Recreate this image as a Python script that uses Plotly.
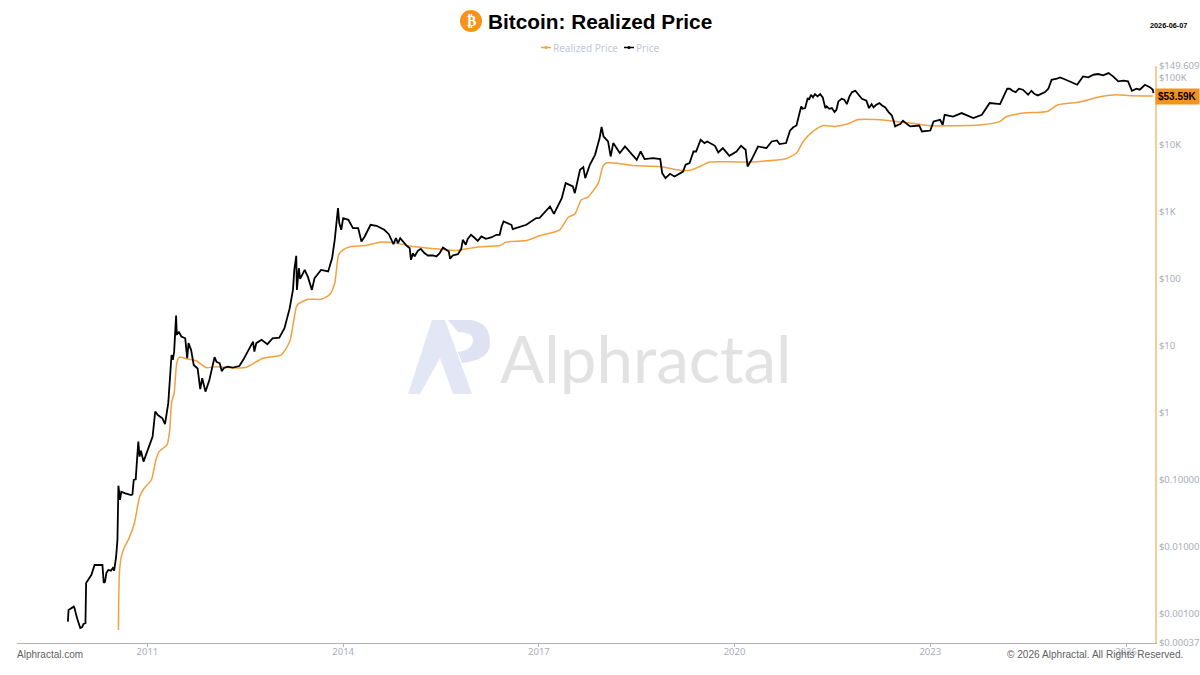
"""
Bitcoin: Realized Price chart, values read off the reference picture
"""
import math
import pandas as pd
from plotly import graph_objects as go

WIDTH, HEIGHT = 1200, 675
M_L, M_R, M_T, M_B = 17, 45, 66, 32

price_years = [
    2009.78, 2009.79, 2009.87, 2009.88, 2009.92, 2009.97, 2010.00, 2010.02, 2010.05, 2010.06, 2010.10, 2010.14,
    2010.19, 2010.31, 2010.33, 2010.35, 2010.37, 2010.40, 2010.44, 2010.47, 2010.49, 2010.52, 2010.54, 2010.55,
    2010.555, 2010.58, 2010.60, 2010.66, 2010.75, 2010.77, 2010.79, 2010.82, 2010.86, 2010.88, 2010.90, 2010.94,
    2011.03, 2011.08, 2011.12, 2011.16, 2011.23, 2011.27, 2011.32, 2011.35, 2011.37, 2011.39, 2011.41, 2011.44,
    2011.45, 2011.48, 2011.52, 2011.58, 2011.61, 2011.63, 2011.67, 2011.71, 2011.77, 2011.81, 2011.84, 2011.89,
    2011.95, 2012.03, 2012.06, 2012.11, 2012.14, 2012.17, 2012.23, 2012.31, 2012.41, 2012.47, 2012.55, 2012.62,
    2012.64, 2012.67, 2012.75, 2012.84, 2012.92, 2013.02, 2013.10, 2013.18, 2013.23, 2013.25, 2013.28, 2013.29,
    2013.32, 2013.34, 2013.41, 2013.46, 2013.52, 2013.56, 2013.66, 2013.77, 2013.83, 2013.87, 2013.92, 2013.94,
    2013.97, 2014.00, 2014.08, 2014.15, 2014.23, 2014.28, 2014.33, 2014.42, 2014.51, 2014.56, 2014.63, 2014.70,
    2014.74, 2014.77, 2014.81, 2014.84, 2014.875, 2014.915, 2014.97, 2015.02, 2015.04, 2015.07, 2015.095, 2015.145,
    2015.19, 2015.25, 2015.30, 2015.38, 2015.43, 2015.48, 2015.53, 2015.58, 2015.62, 2015.64, 2015.68, 2015.76,
    2015.81, 2015.835, 2015.88, 2015.91, 2015.96, 2016.01, 2016.065, 2016.12, 2016.19, 2016.27, 2016.35, 2016.40,
    2016.43, 2016.46, 2016.58, 2016.60, 2016.81, 2016.96, 2017.01, 2017.17, 2017.23, 2017.35, 2017.41, 2017.52,
    2017.55, 2017.63, 2017.68, 2017.71, 2017.78, 2017.86, 2017.93, 2017.96, 2017.99, 2018.06, 2018.10, 2018.14,
    2018.24, 2018.32, 2018.39, 2018.50, 2018.56, 2018.62, 2018.75, 2018.86, 2018.89, 2018.94, 2019.01, 2019.08,
    2019.21, 2019.25, 2019.31, 2019.37, 2019.41, 2019.48, 2019.54, 2019.58, 2019.70, 2019.75, 2019.82, 2019.92,
    2020.03, 2020.10, 2020.17, 2020.20, 2020.26, 2020.36, 2020.49, 2020.57, 2020.65, 2020.69, 2020.79, 2020.85,
    2020.90, 2020.95, 2020.99, 2021.02, 2021.04, 2021.08, 2021.12, 2021.14, 2021.17, 2021.20, 2021.23, 2021.27,
    2021.31, 2021.35, 2021.39, 2021.41, 2021.45, 2021.49, 2021.53, 2021.56, 2021.59, 2021.64, 2021.68, 2021.72,
    2021.76, 2021.80, 2021.85, 2021.90, 2021.95, 2022.02, 2022.06, 2022.10, 2022.13, 2022.17, 2022.22, 2022.26,
    2022.31, 2022.36, 2022.41, 2022.44, 2022.46, 2022.51, 2022.54, 2022.58, 2022.69, 2022.83, 2022.87, 2023.00,
    2023.05, 2023.15, 2023.19, 2023.22, 2023.35, 2023.48, 2023.66, 2023.79, 2023.91, 2024.07, 2024.11, 2024.14,
    2024.18, 2024.22, 2024.26, 2024.31, 2024.36, 2024.42, 2024.50, 2024.55, 2024.60, 2024.65, 2024.71, 2024.76,
    2024.81, 2024.86, 2024.94, 2024.99, 2025.04, 2025.11, 2025.19, 2025.25, 2025.34, 2025.42, 2025.50, 2025.57,
    2025.65, 2025.73, 2025.80, 2025.88, 2025.96, 2026.03, 2026.09, 2026.16, 2026.21, 2026.29, 2026.37, 2026.41,
    2026.42,
]
price_values = [
    0.00077, 0.00115, 0.00129, 0.00124, 0.00087, 0.00062, 0.00064, 0.00071, 0.00073, 0.0029, 0.00333, 0.00382,
    0.00539, 0.00539, 0.00293, 0.00303, 0.00409, 0.00454, 0.00443, 0.00486, 0.00443, 0.00717, 0.0127, 0.0357,
    0.0822, 0.0503, 0.0669, 0.0633, 0.0597, 0.0611, 0.100, 0.102, 0.373, 0.223, 0.274, 0.188,
    0.314, 0.443, 1.05, 0.93, 0.83, 0.68, 1.40, 3.29, 7.3, 6.2, 8.2, 28.3,
    14.6, 16.3, 13.8, 13.0, 6.55, 11.0, 8.7, 5.2, 4.6, 2.26, 3.29, 2.08,
    3.1, 6.8, 5.8, 5.5, 4.2, 4.65, 4.9, 4.75, 5.0, 6.2, 8.7, 11.6,
    8.2, 11.0, 12.3, 10.6, 13.0, 13.3, 18.4, 36.6, 68.6, 136, 220, 68.5,
    144, 100, 136, 106, 68.5, 102, 136, 129, 204, 382, 1135, 678,
    539, 805, 760, 571, 571, 360, 428, 640, 618, 583, 539, 464,
    382, 329, 405, 340, 405, 361, 314, 287, 192, 241, 216, 262,
    280, 241, 223, 223, 216, 241, 294, 271, 256, 199, 223, 233,
    280, 382, 322, 395, 454, 414, 369, 429, 395, 414, 454, 454,
    604, 717, 640, 553, 640, 805, 815, 1200, 933, 1600, 2680, 2385,
    1900, 4240, 4650, 3180, 5030, 7080, 12600, 18400, 13300, 11200, 6690, 10600,
    7520, 9430, 7940, 5970, 7940, 6120, 6330, 6120, 3780, 3180, 3690, 3360,
    3990, 5030, 5330, 7940, 7940, 11900, 10600, 11200, 9660, 7670, 8930, 6850,
    7940, 9660, 8420, 4740, 5970, 9430, 8930, 11200, 11600, 10240, 10600, 16200,
    18200, 19400, 28100, 37300, 34400, 35200, 49800, 46900, 55700, 50900, 57100, 52700,
    57100, 50900, 35200, 37300, 34400, 35200, 30700, 33300, 44300, 48600, 46900, 40400,
    52700, 61100, 63900, 55700, 48600, 45400, 35200, 40400, 36100, 39500, 41800, 38600,
    36100, 30700, 27400, 22200, 18800, 19900, 20400, 22800, 18800, 19400, 15800, 16300,
    22300, 23600, 19900, 28000, 26400, 29700, 25000, 28000, 41900, 40500, 49700, 58900,
    68500, 68500, 63900, 61100, 68500, 66300, 55800, 63900, 57000, 54500, 58900, 61100,
    68500, 93300, 96600, 101100, 96600, 90200, 83200, 78600, 104700, 101100, 110800, 113500,
    108300, 117400, 104700, 88200, 90200, 88200, 63900, 68500, 66300, 78600, 71700, 66300,
    58900,
]
realized_years = [
    2010.555, 2010.56, 2010.57, 2010.60, 2010.65, 2010.71, 2010.80, 2010.88, 2010.95, 2011.06, 2011.13, 2011.18,
    2011.30, 2011.34, 2011.37, 2011.41, 2011.45, 2011.49, 2011.57, 2011.75, 2011.90, 2012.05, 2012.31, 2012.51,
    2012.77, 2013.05, 2013.18, 2013.28, 2013.31, 2013.46, 2013.66, 2013.79, 2013.87, 2013.93, 2014.00, 2014.12,
    2014.35, 2014.56, 2014.81, 2015.07, 2015.43, 2015.74, 2016.04, 2016.40, 2016.50, 2016.81, 2017.01, 2017.32,
    2017.45, 2017.55, 2017.65, 2017.75, 2017.91, 2017.98, 2018.03, 2018.29, 2018.44, 2018.85, 2019.11, 2019.31,
    2019.47, 2019.62, 2020.08, 2020.39, 2020.77, 2020.95, 2021.05, 2021.20, 2021.36, 2021.54, 2021.74, 2021.88,
    2022.23, 2022.38, 2022.69, 2023.00, 2023.25, 2023.76, 2024.07, 2024.17, 2024.43, 2024.79, 2024.96, 2025.29,
    2025.55, 2025.86, 2026.06, 2026.41,
]
realized_values = [
    0.00058, 0.00162, 0.00405, 0.00717, 0.0101, 0.013, 0.0226, 0.0563, 0.0752, 0.1, 0.199, 0.265,
    0.333, 0.526, 1.40, 1.97, 5.5, 6.8, 6.55, 6.0, 4.75, 4.9, 4.7, 4.75,
    6.55, 7.35, 11.6, 37.8, 42, 49.5, 49.5, 57.7, 86, 228, 271, 303,
    314, 353, 341, 303, 280, 265, 297, 314, 353, 373, 439, 539,
    830, 924, 1510, 1660, 2680, 4750, 5340, 5160, 4900, 4750, 4240, 4140,
    4750, 5530, 5530, 5650, 6120, 7520, 11200, 15800, 19400, 18800, 20600, 23600,
    23600, 22800, 21100, 19200, 19200, 19700, 22300, 26400, 29700, 31400, 39500, 43400,
    50800, 55700, 53900, 53590,
]
y_ticks = [0.00037, 0.001, 0.01, 0.1, 1, 10, 100, 1000, 10000, 100000, 149609]
y_tick_labels = ["$0.00037", "$0.00100", "$0.01000", "$0.10000", "$1", "$10", "$100", "$1K", "$10K", "$100K", "$149.609K"]
x_ticks = ["2011-01-01", "2014-01-01", "2017-01-01", "2020-01-01", "2023-01-01", "2026-01-01"]
x_tick_labels = ["2011", "2014", "2017", "2020", "2023", "2026"]

ORANGE = "#f4a03f"
BADGE = "#f7931a"
TICK_GREY = "#a9adb8"
LEGEND_TEXT = "#c3c7dc"


def to_dates(years):
    """小数年份转日期"""
    return [pd.Timestamp(year=int(y), month=1, day=1) + pd.Timedelta(days=(y % 1) * 365.25) for y in years]


def px(x):
    return (x - M_L) / (WIDTH - M_L - M_R)


def py(y):
    return (HEIGHT - M_B - y) / (HEIGHT - M_T - M_B)


def label(x, y, text, size, color, anchor="left", family="Liberation Sans"):
    return dict(xref="paper", yref="paper", x=px(x), y=py(y), text=text, showarrow=False, xanchor=anchor,
                yanchor="middle", font=dict(size=size, color=color, family=family))


def logo_path(points):
    """水印路径, points 是画布像素"""
    out = []
    for cmd, *xy in points:
        pairs = [f"{px(xy[i]):.5f},{py(xy[i + 1]):.5f}" for i in range(0, len(xy), 2)]
        out.append(cmd + " " + " ".join(pairs))
    return " ".join(out) + " Z"


fig = go.Figure()
fig.add_trace(go.Scatter(x=to_dates(realized_years), y=realized_values, mode="lines", name="Realized Price",
                         line=dict(color=ORANGE, width=1.5, shape="spline", smoothing=0.6)))
fig.add_trace(go.Scatter(x=to_dates(price_years), y=price_values, mode="lines", name="Price",
                         line=dict(color="#000000", width=1.8)))

shapes = [
    # 水印 logo
    dict(type="path", xref="paper", yref="paper", layer="below", fillcolor="#e3e6f5", line=dict(width=0),
         path=logo_path([("M", 408, 394), ("L", 432, 320), ("L", 445, 320), ("L", 472, 394), ("L", 453, 394),
                         ("L", 440, 358), ("L", 420, 394)])),
    dict(type="path", xref="paper", yref="paper", layer="below", fillcolor="#dfe2f2", line=dict(width=0),
         path=logo_path([("M", 448, 320), ("L", 470, 320), ("Q", 490, 322, 490, 343), ("Q", 490, 360, 462, 363),
                         ("L", 458, 352), ("Q", 473, 350, 473, 340), ("Q", 473, 332, 458, 332)])),
    # 标题图标
    dict(type="circle", xref="paper", yref="paper", x0=px(460), x1=px(482), y0=py(32), y1=py(10),
         fillcolor=BADGE, line=dict(width=0)),
    # 图例
    dict(type="line", xref="paper", yref="paper", x0=px(541), x1=px(551), y0=py(47.5), y1=py(47.5), line=dict(color=ORANGE, width=1.5)),
    dict(type="circle", xref="paper", yref="paper", x0=px(544.5), x1=px(547.5), y0=py(49), y1=py(46), fillcolor=ORANGE, line=dict(width=0)),
    dict(type="line", xref="paper", yref="paper", x0=px(624), x1=px(634), y0=py(47.5), y1=py(47.5), line=dict(color="#000000", width=1.5)),
    dict(type="circle", xref="paper", yref="paper", x0=px(627.5), x1=px(630.5), y0=py(49), y1=py(46), fillcolor="#000000", line=dict(width=0)),
]
annotations = [
    label(486, 22, "<b>Bitcoin: Realized Price</b>", 20.8, "#000000"),
    label(471, 21, "<b>₿</b>", 14, "#ffffff", "center", "DejaVu Sans"),
    label(1148, 26, "<b>2026-06-07</b>", 7.3, "#000000"),
    label(551, 47.5, "Realized Price", 10, LEGEND_TEXT, family="Noto Sans"),
    label(634, 47.5, "Price", 10, LEGEND_TEXT, family="Noto Sans"),
    label(15, 654, "Alphractal.com", 10, "#5f5f5f"),
    label(1005, 654, "© 2026 Alphractal. All Rights Reserved.", 10.1, "#5f5f5f"),
    label(498, 358, "Alphractal", 65.5, "#e2e2e2", family="Lato"),
    dict(xref="paper", yref="y", x=1.0, y=math.log10(realized_values[-1]), text="<b>$53.59K</b>", showarrow=False,
         xanchor="left", yanchor="middle", yshift=-1, bgcolor=BADGE, borderpad=2,
         font=dict(size=10, color="#000000", family="Liberation Sans")),
]

fig.update_layout(
    width=WIDTH, height=HEIGHT,
    margin=dict(l=M_L, r=M_R, t=M_T, b=M_B),
    paper_bgcolor="#ffffff", plot_bgcolor="#ffffff",
    showlegend=False,
    shapes=shapes, annotations=annotations,
)
fig.update_xaxes(
    type="date", range=["2009-01-01", "2026-06-12"], automargin=False,
    tickvals=x_ticks, ticktext=x_tick_labels,
    showgrid=False, zeroline=False, showline=True, linecolor="#b0b3b8", linewidth=1,
    ticks="outside", ticklen=3, tickcolor="#b0b3b8", ticklabelstandoff=-3,
    tickfont=dict(size=9.5, color=TICK_GREY, family="Noto Sans"),
)
fig.update_yaxes(
    type="log", side="right", automargin=False,
    range=[math.log10(y_ticks[0]), math.log10(y_ticks[-1])],
    tickvals=y_ticks, ticktext=y_tick_labels,
    showgrid=False, zeroline=False, showline=True, linecolor="#f8cc96", linewidth=2,
    ticks="", tickfont=dict(size=9.5, color=TICK_GREY, family="Noto Sans"),
)

fig.write_html("out.html", config={"displayModeBar": False},
               post_script="document.body.style.margin='0';document.body.style.overflow='hidden';")
